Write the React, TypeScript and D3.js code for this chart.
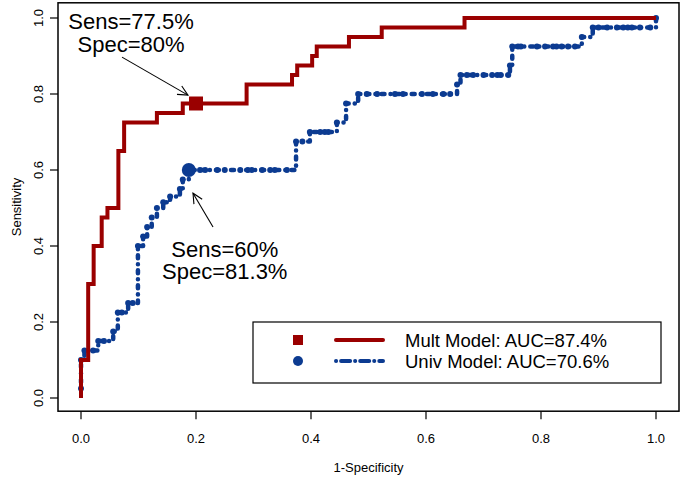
import React from 'react';
import * as d3 from 'd3';

// ROC points (1-specificity, sensitivity), drawn as step curves
const multFpr = [0, 0, 0.0125, 0.022, 0.036, 0.046, 0.065, 0.075, 0.132, 0.177, 0.288, 0.367, 0.376, 0.402, 0.41, 0.466, 0.523, 0.667, 1];
const multTpr = [0, 0.1, 0.3, 0.4, 0.475, 0.5, 0.65, 0.725, 0.75, 0.775, 0.825, 0.85, 0.875, 0.9, 0.925, 0.95, 0.975, 1, 1];

const univFpr = [
  0, 0, 0.006, 0.021, 0.03, 0.04, 0.056, 0.064, 0.071, 0.082, 0.09,
  0.099, 0.108, 0.115, 0.123, 0.132, 0.143, 0.155, 0.172, 0.177, 0.1875,
  0.207, 0.216, 0.237, 0.25, 0.277, 0.29, 0.297, 0.315, 0.329, 0.337, 0.358,
  0.374, 0.385, 0.398, 0.416, 0.424, 0.43,
  0.445, 0.461, 0.482, 0.497, 0.515, 0.546, 0.56, 0.593, 0.612, 0.63, 0.642,
  0.654, 0.66, 0.671, 0.682, 0.7, 0.715, 0.724, 0.73, 0.743,
  0.746, 0.75, 0.76, 0.765, 0.793, 0.807, 0.821, 0.827, 0.836, 0.847, 0.859,
  0.871, 0.89, 0.9, 0.915, 0.932, 0.943, 0.951, 0.958, 0.972, 0.99, 1
];
const univTpr = [
  0.025, 0.1, 0.125, 0.125, 0.15, 0.15, 0.175, 0.225, 0.225, 0.25, 0.25,
  0.4, 0.425, 0.45, 0.475, 0.5, 0.515, 0.53, 0.55, 0.575, 0.6,
  0.6, 0.6, 0.6, 0.6, 0.6, 0.6, 0.6, 0.6, 0.6, 0.6, 0.6,
  0.675, 0.675, 0.7, 0.7, 0.7, 0.7,
  0.725, 0.775, 0.8, 0.8, 0.8, 0.8, 0.8, 0.8, 0.8, 0.8, 0.8,
  0.825, 0.85, 0.85, 0.85, 0.85, 0.85, 0.85, 0.85, 0.85,
  0.875, 0.925, 0.925, 0.925, 0.925, 0.925, 0.925, 0.925, 0.925, 0.925, 0.925,
  0.95, 0.975, 0.975, 0.975, 0.975, 0.975, 0.975, 0.975, 0.975, 0.975, 1
];

const optimalFpr = [0.2, 0.1875];
const optimalTpr = [0.775, 0.6];

const xTicks = [0, 0.2, 0.4, 0.6, 0.8, 1.0];
const yTicks = [0, 0.2, 0.4, 0.6, 0.8, 1.0];
const legendLabels = ['Mult Model: AUC=87.4%', 'Univ Model: AUC=70.6%'];
const annotationText = [['Sens=77.5%', 'Spec=80%'], ['Sens=60%', 'Spec=81.3%']];
// annotation anchor positions in data units
const annotTextX = [0.087, 0.25];
const annotTextY = [[0.971, 0.9105], [0.371, 0.313]];
const arrowFrom = [[0.0713, 0.897], [0.2296, 0.45]];
const arrowTo = [[0.186, 0.797], [0.1948, 0.539]];

const RED = '#9A0000';
const BLUE = '#0C3B91';
const FONT = '"Liberation Sans", Arial, Helvetica, sans-serif';

export default function App() {
  const W = 683, H = 478;
  const x = d3.scaleLinear().domain([0, 1]).range([81, 656]);
  const y = d3.scaleLinear().domain([0, 1]).range([398, 18]);
  const fx0 = x(-0.04), fx1 = x(1.04), fy0 = y(1.04), fy1 = y(-0.04) - 2;

  const line = d3.line<[number, number]>().x(d => x(d[0])).y(d => y(d[1])).curve(d3.curveStepAfter);
  const multPts = multFpr.map((f, i) => [f, multTpr[i]] as [number, number]);
  const univPts = univFpr.map((f, i) => [f, univTpr[i]] as [number, number]);

  const arrow = (i: number) => {
    const x1 = x(arrowFrom[i][0]), y1 = y(arrowFrom[i][1]);
    const x2 = x(arrowTo[i][0]), y2 = y(arrowTo[i][1]);
    const a = Math.atan2(y2 - y1, x2 - x1);
    const L = 11, s = 0.45;
    const h1 = [x2 - L * Math.cos(a - s), y2 - L * Math.sin(a - s)];
    const h2 = [x2 - L * Math.cos(a + s), y2 - L * Math.sin(a + s)];
    return (
      <g key={'ar' + i} stroke="#000" strokeWidth={1.1} fill="none">
        <line x1={x1} y1={y1} x2={x2} y2={y2} />
        <path d={`M${h1[0]},${h1[1]}L${x2},${y2}L${h2[0]},${h2[1]}`} />
      </g>
    );
  };

  const lgX = 253, lgY = 322, lgW = 408, lgH = 61;

  return (
    <svg width={W} height={H} style={{ position: 'absolute', left: 0, top: 0, background: '#fff' }} fontFamily={FONT}>
      <rect x={0} y={0} width={W} height={H} fill="#fff" />
      {/* curves */}
      <path d={line(univPts) || ''} fill="none" stroke={BLUE} strokeWidth={4.5} strokeLinecap="round" strokeLinejoin="round" strokeDasharray="0.1 6 3 6" />
      {univPts.map((p, i) => (
        <circle key={'u' + i} cx={x(p[0])} cy={y(p[1])} r={3} fill={BLUE} />
      ))}
      <path d={line(multPts) || ''} fill="none" stroke={RED} strokeWidth={4} strokeLinejoin="miter" />
      {/* optimal points */}
      <rect x={x(optimalFpr[0]) - 7} y={y(optimalTpr[0]) - 7} width={14} height={14} fill={RED} />
      <circle cx={x(optimalFpr[1])} cy={y(optimalTpr[1])} r={7} fill={BLUE} />
      {/* annotations */}
      {annotationText.map((lines, i) => (
        <g key={'t' + i}>
          {lines.map((t, j) => (
            <text key={j} x={x(annotTextX[i])} y={y(annotTextY[i][j])} fontSize={22} textAnchor="middle" fill="#000">{t}</text>
          ))}
        </g>
      ))}
      {arrow(0)}
      {arrow(1)}
      {/* frame */}
      <rect x={fx0} y={fy0} width={fx1 - fx0} height={fy1 - fy0} fill="none" stroke="#000" strokeWidth={1.5} />
      {/* x axis */}
      {xTicks.map(t => (
        <g key={'x' + t}>
          <line x1={x(t)} x2={x(t)} y1={fy1} y2={fy1 + 8} stroke="#000" strokeWidth={1.2} />
          <text x={x(t)} y={442.5} fontSize={13} textAnchor="middle">{t.toFixed(1)}</text>
        </g>
      ))}
      <text x={(fx0 + fx1) / 2} y={471.5} fontSize={13} textAnchor="middle">1-Specificity</text>
      {/* y axis */}
      {yTicks.map(t => (
        <g key={'y' + t}>
          <line x1={fx0} x2={fx0 - 8} y1={y(t)} y2={y(t)} stroke="#000" strokeWidth={1.2} />
          <text transform={`translate(43,${y(t)}) rotate(-90)`} fontSize={13} textAnchor="middle">{t.toFixed(1)}</text>
        </g>
      ))}
      <text transform={`translate(21,${(fy0 + fy1) / 2}) rotate(-90)`} fontSize={13} textAnchor="middle">Sensitivity</text>
      {/* legend */}
      <rect x={lgX} y={lgY} width={lgW} height={lgH} fill="#fff" stroke="#000" strokeWidth={1.2} />
      <rect x={298 - 5} y={340 - 5} width={10} height={10} fill={RED} />
      <circle cx={298} cy={361} r={5} fill={BLUE} />
      <line x1={336} x2={383} y1={340} y2={340} stroke={RED} strokeWidth={4} strokeLinecap="round" />
      <line x1={336} x2={383} y1={361} y2={361} stroke={BLUE} strokeWidth={4} strokeLinecap="round" strokeDasharray="0.1 5 9 5" />
      {legendLabels.map((l, i) => (
        <text key={'l' + i} x={405} y={347 + i * 21} fontSize={18.5} fill="#000">{l}</text>
      ))}
    </svg>
  );
}
